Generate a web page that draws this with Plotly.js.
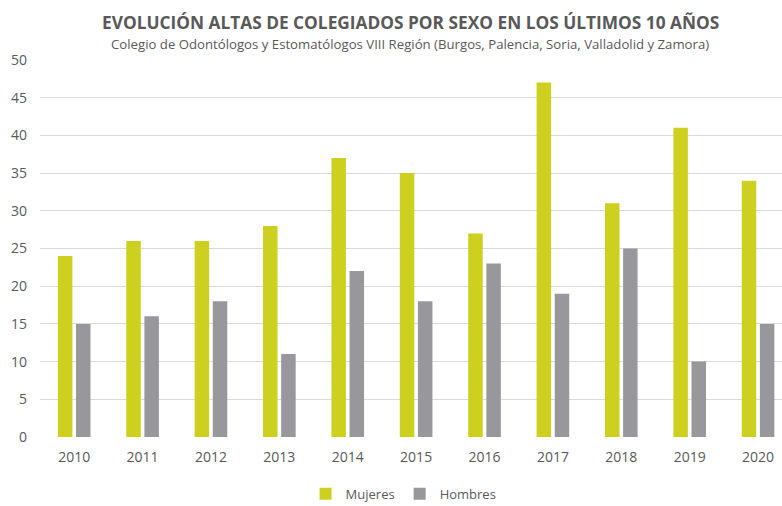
<!DOCTYPE html>
<html><head><meta charset="utf-8">
<script src="https://cdn.plot.ly/plotly-3.0.1.min.js"></script>
<style>html,body{margin:0;padding:0;background:#fff;overflow:hidden}#c{width:782px;height:506px}</style>
</head><body><div id="c"></div>
<script>
const years = ["2010","2011","2012","2013","2014","2015","2016","2017","2018","2019","2020"];
const mujeres = [24, 26, 26, 28, 37, 35, 27, 47, 31, 41, 34];
const hombres = [15, 16, 18, 11, 22, 18, 23, 19, 25, 10, 15];
const yTicks = [0,5,10,15,20,25,30,35,40,45,50];

const font = "Open Sans, Noto Sans, sans-serif";
const data = [
  {type:"bar", name:"Mujeres", x:years, y:mujeres, marker:{color:"#cdd01e"}},
  {type:"bar", name:"Hombres", x:years, y:hombres, marker:{color:"#98979c"}}
];
const layout = {
  width:782, height:506,
  margin:{l:40, r:0, t:60, b:69, autoexpand:false},
  paper_bgcolor:"#fff", plot_bgcolor:"#fff",
  font:{family:font, color:"#595959", size:13},
  barmode:"group", bargap:0.47, bargroupgap:0.2,
  showlegend:true,
  legend:{orientation:"h", x:0.49, xanchor:"center", xref:"paper", yref:"container", y:0.024, yanchor:"middle", font:{size:13, color:"#595959"}, itemwidth:30, tracegroupgap:0},
  xaxis:{type:"category", range:[-0.5,10.35], automargin:false, showgrid:false, zeroline:false, showline:false, ticks:"", ticklabelstandoff:10, tickfont:{size:14, color:"#595959"}},
  yaxis:{range:[0,50], tickvals:yTicks, automargin:false, showgrid:true, gridcolor:"#d9d9d9", gridwidth:1, zeroline:false, showline:false, ticks:"", ticklabelstandoff:12, tickfont:{size:14, color:"#595959"}},
  annotations:[
    {text:"<b>EVOLUCIÓN ALTAS DE COLEGIADOS POR SEXO EN LOS ÚLTIMOS 10 AÑOS</b>", xref:"paper", yref:"paper", x:0.499, y:1, yshift:38, xanchor:"center", yanchor:"middle", showarrow:false, font:{size:17.3, color:"#595959", family:font}},
    {text:"Colegio de Odontólogos y Estomatólogos VIII Región (Burgos, Palencia, Soria, Valladolid y Zamora)", xref:"paper", yref:"paper", x:0.499, y:1, yshift:16, xanchor:"center", yanchor:"middle", showarrow:false, font:{size:13.2, color:"#595959", family:font}}
  ]
};
Plotly.newPlot("c", data, layout, {displayModeBar:false, staticPlot:true});
</script></body></html>
